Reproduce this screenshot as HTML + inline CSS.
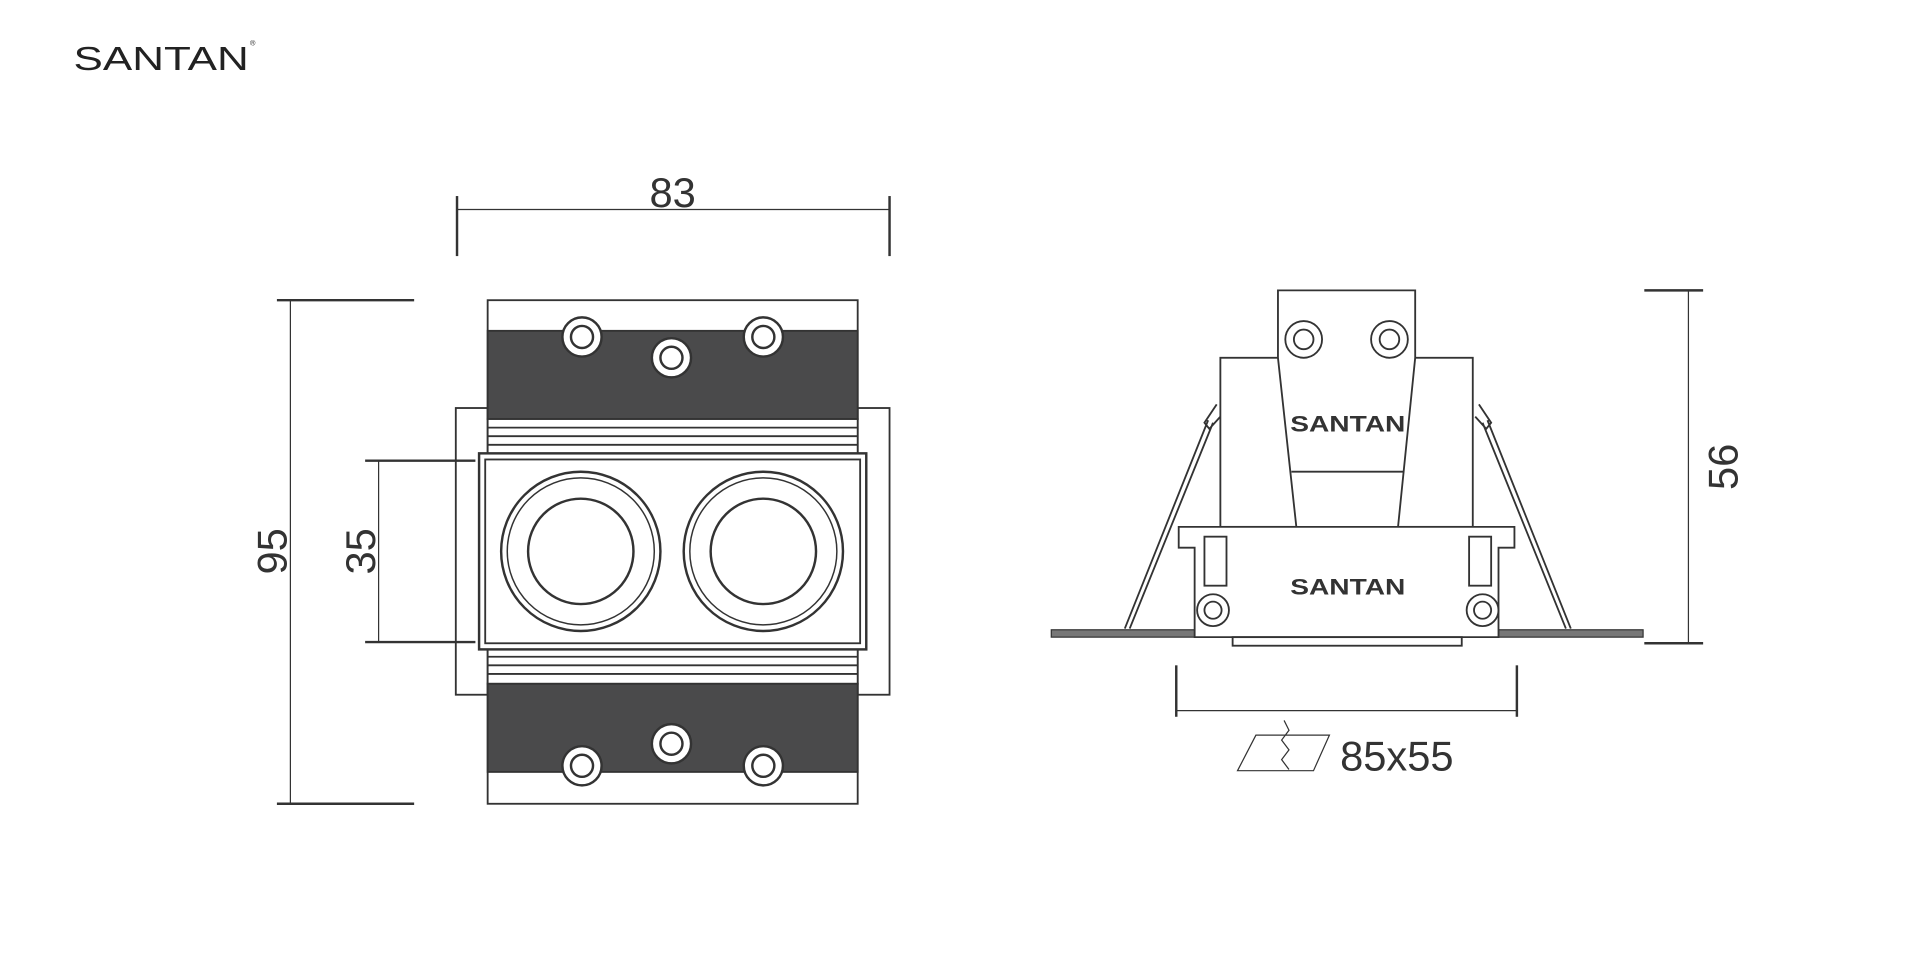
<!DOCTYPE html>
<html><head><style>html,body{margin:0;padding:0;background:#fff}svg{display:block}</style></head>
<body>
<svg width="1920" height="960" viewBox="0 0 1567 783.5" xmlns="http://www.w3.org/2000/svg" font-family="Liberation Sans, sans-serif">
<text x="60" y="57" font-size="27" fill="#222" textLength="143" lengthAdjust="spacingAndGlyphs">SANTAN</text>
<text x="204" y="37" font-size="6" fill="#222">®</text>
<g stroke="#333" fill="none" stroke-width="1.5">
<line x1="373" y1="171" x2="726" y2="171" stroke-width="1"/>
<line x1="373" y1="160" x2="373" y2="209" stroke-width="2"/>
<line x1="726" y1="160" x2="726" y2="209" stroke-width="2"/>
<line x1="226" y1="245" x2="338" y2="245" stroke-width="2"/>
<line x1="226" y1="656" x2="338" y2="656" stroke-width="2"/>
<line x1="237" y1="245" x2="237" y2="656" stroke-width="1"/>
<line x1="298" y1="376" x2="388" y2="376" stroke-width="2"/>
<line x1="298" y1="524" x2="388" y2="524" stroke-width="2"/>
<line x1="309" y1="376" x2="309" y2="524" stroke-width="1"/>
<rect x="372" y="333" width="26" height="234"/>
<rect x="700" y="333" width="26" height="234"/>
<rect x="398" y="245" width="302" height="97" fill="#fff"/>
<rect x="398" y="270" width="302" height="72" fill="#4a4a4b"/>
<rect x="398" y="558" width="302" height="98" fill="#fff"/>
<rect x="398" y="558" width="302" height="72" fill="#4a4a4b"/>
<rect x="398" y="342" width="302" height="30" fill="#fff"/>
<line x1="398" y1="349" x2="700" y2="349"/><line x1="398" y1="356" x2="700" y2="356"/><line x1="398" y1="363" x2="700" y2="363"/>
<rect x="398" y="528" width="302" height="30" fill="#fff"/>
<line x1="398" y1="536" x2="700" y2="536"/><line x1="398" y1="543" x2="700" y2="543"/><line x1="398" y1="550" x2="700" y2="550"/>
<rect x="391" y="370" width="316" height="160" fill="#fff" stroke-width="2"/>
<rect x="396" y="375" width="306" height="150"/>
<g fill="#fff" stroke-width="2">
<circle cx="474" cy="450" r="65"/><circle cx="474" cy="450" r="60" stroke-width="1.2"/><circle cx="474" cy="450" r="43"/>
<circle cx="623" cy="450" r="65"/><circle cx="623" cy="450" r="60" stroke-width="1.2"/><circle cx="623" cy="450" r="43"/>
<circle cx="475" cy="275" r="16"/><circle cx="475" cy="275" r="9"/>
<circle cx="623" cy="275" r="16"/><circle cx="623" cy="275" r="9"/>
<circle cx="548" cy="292" r="16"/><circle cx="548" cy="292" r="9"/>
<circle cx="475" cy="625" r="16"/><circle cx="475" cy="625" r="9"/>
<circle cx="623" cy="625" r="16"/><circle cx="623" cy="625" r="9"/>
<circle cx="548" cy="607" r="16"/><circle cx="548" cy="607" r="9"/>
</g>
<rect x="858" y="514" width="117" height="6" fill="#777" stroke-width="1"/>
<rect x="1223" y="514" width="118" height="6" fill="#777" stroke-width="1"/>
<path d="M993 330 L983 345 L987 350 L996 340 M990 345 L922 513 M986 343 L918 513"/>
<path d="M1207 330 L1217 345 L1213 350 L1204 340 M1210 345 L1278 513 M1214 343 L1282 513"/>
<rect x="996" y="292" width="206" height="138" fill="#fff"/>
<path d="M1043 237 H1155 V292 L1141 430 H1058 L1043 292 Z" fill="#fff"/>
<line x1="1054" y1="385" x2="1146" y2="385"/>
<circle cx="1064" cy="277" r="15"/><circle cx="1064" cy="277" r="8"/>
<circle cx="1134" cy="277" r="15"/><circle cx="1134" cy="277" r="8"/>
<path d="M962 430 H1236 V447 H1223 V520 H975 V447 H962 Z" fill="#fff"/>
<rect x="983" y="438" width="18" height="40"/><rect x="1199" y="438" width="18" height="40"/>
<circle cx="990" cy="498" r="13"/><circle cx="990" cy="498" r="7"/>
<circle cx="1210" cy="498" r="13"/><circle cx="1210" cy="498" r="7"/>
<rect x="1006" y="520" width="187" height="7"/>
<line x1="1342" y1="237" x2="1390" y2="237" stroke-width="2"/>
<line x1="1342" y1="525" x2="1390" y2="525" stroke-width="2"/>
<line x1="1378" y1="237" x2="1378" y2="525" stroke-width="1"/>
<line x1="960" y1="580" x2="1238" y2="580" stroke-width="1"/>
<line x1="960" y1="543" x2="960" y2="585" stroke-width="2"/>
<line x1="1238" y1="543" x2="1238" y2="585" stroke-width="2"/>
<path d="M1025 600 H1085 L1072 629 H1010 Z" stroke-width="1"/>
<path d="M1048 588 L1052 596 L1046 604 L1052 612 L1046 620 L1052 628" stroke-width="1"/>
</g>
<g fill="#333" font-size="34">
<text x="549" y="169" text-anchor="middle">83</text>
<text transform="translate(234,450) rotate(-90)" text-anchor="middle">95</text>
<text transform="translate(306,450) rotate(-90)" text-anchor="middle">35</text>
<text transform="translate(1418,381) rotate(-90)" text-anchor="middle">56</text>
<text x="1140" y="629" text-anchor="middle">85x55</text>
<text x="1053" y="352" font-size="18" font-weight="bold" textLength="94" lengthAdjust="spacingAndGlyphs">SANTAN</text>
<text x="1053" y="485" font-size="18" font-weight="bold" textLength="94" lengthAdjust="spacingAndGlyphs">SANTAN</text>
</g>
</svg>
</body></html>
